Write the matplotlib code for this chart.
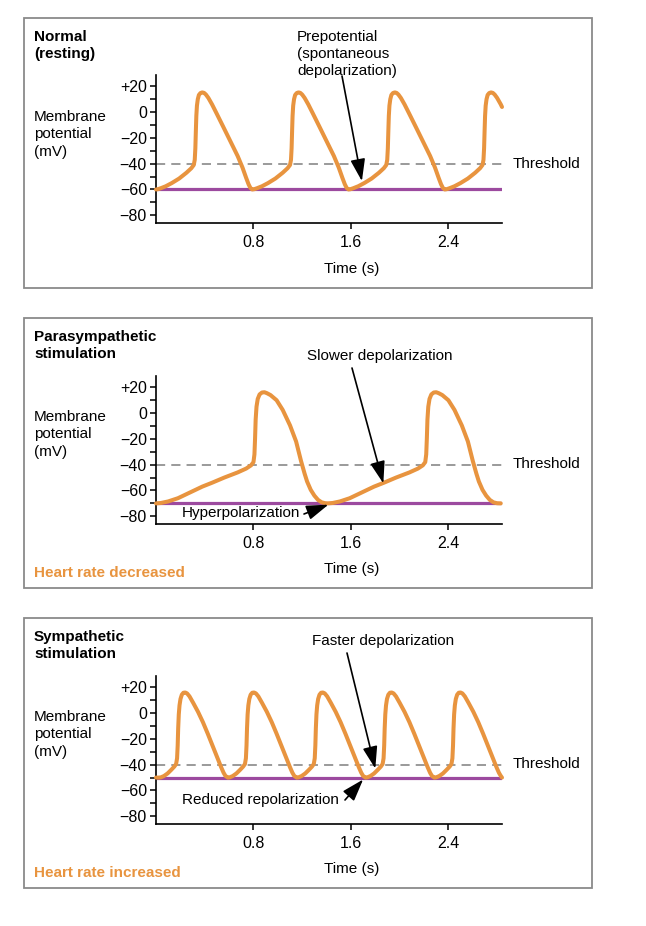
import matplotlib
matplotlib.use('Agg')
import matplotlib.pyplot as plt
from matplotlib.patches import Rectangle

plt.rcParams['font.family'] = ['Liberation Sans', 'DejaVu Sans']

# --- data ---
# normal (resting) pacemaker potential
t_normal = [0.0, 0.015, 0.04, 0.08, 0.13, 0.19, 0.25, 0.29, 0.31, 0.318, 0.323, 0.327, 0.331, 0.336, 0.343,
            0.352, 0.365, 0.38, 0.395, 0.41, 0.43, 0.46, 0.50, 0.55, 0.61, 0.67, 0.71, 0.74, 0.76, 0.775,
            0.79, 0.805, 0.83, 0.87, 0.92, 0.98, 1.04, 1.08, 1.10, 1.108, 1.113, 1.117, 1.121, 1.126, 1.133,
            1.142, 1.155, 1.17, 1.185, 1.20, 1.22, 1.25, 1.29, 1.34, 1.40, 1.46, 1.50, 1.53, 1.55, 1.565,
            1.58, 1.595, 1.62, 1.66, 1.71, 1.77, 1.83, 1.87, 1.89, 1.898, 1.903, 1.907, 1.911, 1.916, 1.923,
            1.932, 1.945, 1.96, 1.975, 1.99, 2.01, 2.04, 2.08, 2.13, 2.19, 2.25, 2.29, 2.32, 2.34, 2.355,
            2.37, 2.385, 2.41, 2.45, 2.50, 2.56, 2.62, 2.66, 2.68, 2.688, 2.693, 2.697, 2.701, 2.706, 2.713,
            2.722, 2.735, 2.75, 2.765, 2.78, 2.80, 2.83, 2.84]
v_normal = [-60, -59.8, -59, -57.5, -55, -51.5, -47, -43.5, -41, -37, -28, -15, -3, 5, 10,
            13.3, 14.8, 15.3, 14.9, 13.6, 11, 6, -1.5, -11, -22.5, -34, -43, -51, -56, -58.8,
            -60, -59.8, -59, -57.5, -55, -51.5, -47, -43.5, -41, -37, -28, -15, -3, 5, 10,
            13.3, 14.8, 15.3, 14.9, 13.6, 11, 6, -1.5, -11, -22.5, -34, -43, -51, -56, -58.8,
            -60, -59.8, -59, -57.5, -55, -51.5, -47, -43.5, -41, -37, -28, -15, -3, 5, 10,
            13.3, 14.8, 15.3, 14.9, 13.6, 11, 6, -1.5, -11, -22.5, -34, -43, -51, -56, -58.8,
            -60, -59.8, -59, -57.5, -55, -51.5, -47, -43.5, -41, -37, -28, -15, -3, 5, 10,
            13.3, 14.8, 15.3, 14.9, 13.6, 11, 6, 4]

# parasympathetic stimulation
t_para = [0.0, 0.04, 0.10, 0.18, 0.28, 0.38, 0.46, 0.56, 0.67, 0.74, 0.78, 0.80, 0.808, 0.813, 0.818, 0.825, 0.835,
          0.85, 0.87, 0.89, 0.91, 0.94, 0.99, 1.04, 1.10, 1.15, 1.19, 1.22, 1.24, 1.27, 1.30, 1.33, 1.36, 1.39,
          1.41, 1.45, 1.51, 1.59, 1.69, 1.79, 1.87, 1.97, 2.08, 2.15, 2.19, 2.21, 2.218, 2.223, 2.228, 2.235, 2.245,
          2.26, 2.28, 2.30, 2.32, 2.35, 2.40, 2.45, 2.51, 2.56, 2.60, 2.63, 2.65, 2.68, 2.71, 2.74, 2.77, 2.80, 2.83]
v_para = [-70, -69.7, -68.5, -66, -61.5, -57, -54, -50, -46, -43, -40.5, -38, -32, -20, -5, 5, 11,
          14.5, 16, 16.2, 15.5, 14, 10, 2.5, -9.5, -22, -37, -47, -53, -59.5, -64, -67.3, -69.2, -69.9,
          -70, -69.7, -68.5, -66, -61.5, -57, -54, -50, -46, -43, -40.5, -38, -32, -20, -5, 5, 11,
          14.5, 16, 16.2, 15.5, 14, 10, 2.5, -9.5, -22, -37, -47, -53, -59.5, -64, -67.3, -69.2, -69.9, -70]

# sympathetic stimulation
t_symp = [0.0,
          0.025, 0.04, 0.065, 0.095, 0.125, 0.15, 0.165, 0.173, 0.178, 0.182, 0.187, 0.193, 0.201, 0.212,
          0.225, 0.24, 0.255, 0.275, 0.305, 0.345, 0.385, 0.425, 0.465, 0.505, 0.535, 0.555, 0.57,
          0.59, 0.605, 0.63, 0.66, 0.69, 0.715, 0.73, 0.738, 0.743, 0.747, 0.752, 0.758, 0.766, 0.777,
          0.79, 0.805, 0.82, 0.84, 0.87, 0.91, 0.95, 0.99, 1.03, 1.07, 1.10, 1.12, 1.135,
          1.155, 1.17, 1.195, 1.225, 1.255, 1.28, 1.295, 1.303, 1.308, 1.312, 1.317, 1.323, 1.331, 1.342,
          1.355, 1.37, 1.385, 1.405, 1.435, 1.475, 1.515, 1.555, 1.595, 1.635, 1.665, 1.685, 1.70,
          1.72, 1.735, 1.76, 1.79, 1.82, 1.845, 1.86, 1.868, 1.873, 1.877, 1.882, 1.888, 1.896, 1.907,
          1.92, 1.935, 1.95, 1.97, 2.00, 2.04, 2.08, 2.12, 2.16, 2.20, 2.23, 2.25, 2.265,
          2.285, 2.30, 2.325, 2.355, 2.385, 2.41, 2.425, 2.433, 2.438, 2.442, 2.447, 2.453, 2.461, 2.472,
          2.485, 2.50, 2.515, 2.535, 2.565, 2.605, 2.645, 2.685, 2.725, 2.765, 2.795, 2.815, 2.83,
          2.84]
v_symp = [-50,
          -50, -49.8, -48.8, -46.8, -44, -41.5, -39.5, -35, -25, -12, -1, 6, 11, 14.3,
          15.8, 16, 15.3, 13, 8, 1, -7, -16, -25.5, -35, -42, -46.3, -48.7,
          -50, -49.8, -48.8, -46.8, -44, -41.5, -39.5, -35, -25, -12, -1, 6, 11, 14.3,
          15.8, 16, 15.3, 13, 8, 1, -7, -16, -25.5, -35, -42, -46.3, -48.7,
          -50, -49.8, -48.8, -46.8, -44, -41.5, -39.5, -35, -25, -12, -1, 6, 11, 14.3,
          15.8, 16, 15.3, 13, 8, 1, -7, -16, -25.5, -35, -42, -46.3, -48.7,
          -50, -49.8, -48.8, -46.8, -44, -41.5, -39.5, -35, -25, -12, -1, 6, 11, 14.3,
          15.8, 16, 15.3, 13, 8, 1, -7, -16, -25.5, -35, -42, -46.3, -48.7,
          -50, -49.8, -48.8, -46.8, -44, -41.5, -39.5, -35, -25, -12, -1, 6, 11, 14.3,
          15.8, 16, 15.3, 13, 8, 1, -7, -16, -25.5, -35, -42, -46.3, -48.7,
          -50]

baselines = [-60, -70, -50]
threshold = -40
x_ticks = [0.8, 1.6, 2.4]
x_labels = ['0.8', '1.6', '2.4']
y_ticks = [20, 10, 0, -10, -20, -30, -40, -50, -60, -70, -80]
y_labels = ['+20', '', '0', '', '\u221220', '', '\u221240', '', '\u221260', '', '\u221280']
titles = ['Normal\n(resting)', 'Parasympathetic\nstimulation', 'Sympathetic\nstimulation']
footers = ['', 'Heart rate decreased', 'Heart rate increased']

ORANGE = '#E8943F'
PURPLE = '#9C4A9F'
W, H = 646, 926

fig = plt.figure(figsize=(W / 100, H / 100), dpi=100)


def fx(x):
    return x / W


def fy(y):
    return 1 - y / H


def put(x, y, s, **kw):
    fig.text(fx(x), fy(y), s, fontsize=11, **kw)


# offsets of each panel from the top (pixels)
tops = [0, 300, 600]
curves = [(t_normal, v_normal), (t_para, v_para), (t_symp, v_symp)]
axes = []

for i, off in enumerate(tops):
    # outer box
    fig.add_artist(Rectangle((fx(24), fy(288 + off)), (592 - 24) / W, (288 - 17.5) / H,
                             transform=fig.transFigure, fill=False, edgecolor='#8a8a8a', lw=1.3))
    ax = fig.add_axes([fx(156), fy(223 + off + (1 if i else 0)), 346 / W, 148 / H])
    t, v = curves[i]
    ax.plot([0, 2.84], [baselines[i], baselines[i]], color=PURPLE, lw=2.3, solid_capstyle='butt', zorder=2)
    ax.plot([0, 2.85], [threshold, threshold], color='#7f7f7f', lw=1.1, dashes=(6, 4), zorder=2, clip_on=False)
    ax.plot(t, v, color=ORANGE, lw=2.9, solid_joinstyle='round', solid_capstyle='round', zorder=3, clip_on=False)
    ax.set_xlim(0, 2.84)
    ax.set_ylim(-86, 28.8)
    for s in ['top', 'right']:
        ax.spines[s].set_visible(False)
    for s in ['left', 'bottom']:
        ax.spines[s].set_linewidth(1.2)
    ax.set_xticks(x_ticks)
    ax.set_xticklabels(x_labels)
    ax.set_yticks(y_ticks)
    ax.set_yticklabels(y_labels)
    ax.tick_params(length=4.5, width=1.1, labelsize=11.5, direction='out')
    ax.tick_params(axis='y', pad=2)
    ax.tick_params(axis='x', pad=4)
    ax.patch.set_alpha(0)
    axes.append(ax)

    put(34, 30 + off, titles[i], fontweight='bold', va='top', linespacing=1.3)
    put(34, 110 + off, 'Membrane\npotential\n(mV)', va='top', linespacing=1.3)
    put(513, 164 + off, 'Threshold', va='center')
    put(352, 269 + off, 'Time (s)', ha='center', va='center')
    if footers[i]:
        put(34, 273 + off, footers[i], color=ORANGE, fontweight='bold', va='center')

arrow = dict(arrowstyle='-|>,head_length=0.9,head_width=0.3', color='black', lw=1.2,
             shrinkA=0, shrinkB=0, mutation_scale=15)

# normal panel annotations
put(297, 30, 'Prepotential\n(spontaneous\ndepolarization)', va='top', linespacing=1.25)
axes[0].annotate('', xy=(1.69, -53.5), xytext=(fx(342), fy(76)), textcoords='figure fraction',
                 arrowprops=arrow, annotation_clip=False)

# parasympathetic panel annotations
put(307, 356, 'Slower depolarization', va='center')
axes[1].annotate('', xy=(1.866, -54.5), xytext=(fx(352), fy(368)), textcoords='figure fraction',
                 arrowprops=arrow, annotation_clip=False)
put(182, 513, 'Hyperpolarization', va='center')
axes[1].annotate('', xy=(1.415, -71), xytext=(fx(304), fy(514)), textcoords='figure fraction',
                 arrowprops=arrow, annotation_clip=False)

# sympathetic panel annotations
put(312, 641, 'Faster depolarization', va='center')
axes[2].annotate('', xy=(1.80, -43), xytext=(fx(347), fy(653)), textcoords='figure fraction',
                 arrowprops=arrow, annotation_clip=False)
put(182, 800, 'Reduced repolarization', va='center')
axes[2].annotate('', xy=(1.70, -51.5), xytext=(fx(345), fy(800)), textcoords='figure fraction',
                 arrowprops=arrow, annotation_clip=False)

fig.savefig('out.png', dpi=100, facecolor='white')
